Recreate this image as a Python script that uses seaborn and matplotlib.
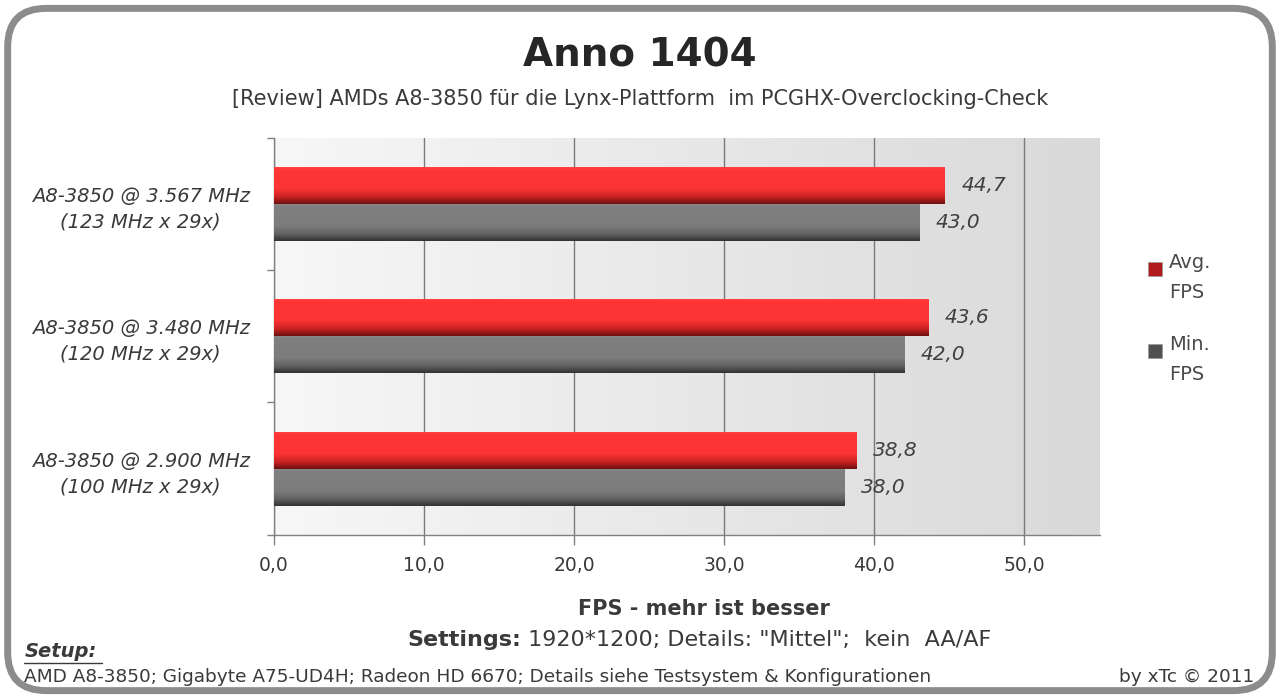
import numpy as np
import pandas as pd
import matplotlib.pyplot as plt
import seaborn as sns
from matplotlib.patches import FancyBboxPatch, Rectangle
from matplotlib.colors import LinearSegmentedColormap

# data
configs = ["A8-3850 @ 3.567 MHz\n(123 MHz x 29x)",
           "A8-3850 @ 3.480 MHz\n(120 MHz x 29x)",
           "A8-3850 @ 2.900 MHz\n(100 MHz x 29x)"]
avg_fps = [44.7, 43.6, 38.8]
min_fps = [43.0, 42.0, 38.0]
series = ["Avg. FPS", "Min. FPS"]
xticks = [0, 10, 20, 30, 40, 50]

df = pd.DataFrame({
    "config": configs * 2,
    "fps": avg_fps + min_fps,
    "series": [series[0]] * 3 + [series[1]] * 3,
})

sns.set_theme(style="white")
plt.rcParams["font.family"] = ["DejaVu Sans"]
TXT = "#3a3a3a"

fig = plt.figure(figsize=(12.8, 6.99), dpi=100)
fig.patch.set_facecolor("white")

# rounded frame
frame = FancyBboxPatch((0.006, 0.012), 0.988, 0.976, boxstyle="round,pad=0,rounding_size=0.03",
                       transform=fig.transFigure, facecolor="white", edgecolor="#8c8c8c",
                       linewidth=5, mutation_aspect=1.83, zorder=-10)
fig.patches.append(frame)

ax = fig.add_axes([0.214, 0.235, 0.645, 0.568])
ax.set_facecolor("none")

palette = {series[0]: "#ff3535", series[1]: "#808080"}
sns.barplot(data=df, y="config", x="fps", hue="series", order=configs, hue_order=series,
            palette=palette, orient="h", width=0.56, ax=ax, legend=False, saturation=1,
            edgecolor="none", zorder=3)

# plot background gradient
bg = LinearSegmentedColormap.from_list("bg", ["#f7f7f7", "#d9d9d9"])
ax.imshow(np.linspace(0, 1, 256).reshape(1, -1), cmap=bg, aspect="auto",
          extent=[0, 1, 0, 1], transform=ax.transAxes, zorder=0)

# shading on bars: flat colour with a darker band towards the bottom edge
shade_cmaps = {
    series[0]: LinearSegmentedColormap.from_list(
        "r", [(0, "#ff4545"), (0.08, "#ff3535"), (0.6, "#fb3333"), (0.82, "#c82222"), (1, "#6e1010")]),
    series[1]: LinearSegmentedColormap.from_list(
        "g", [(0, "#8a8a8a"), (0.08, "#808080"), (0.6, "#7c7c7c"), (0.82, "#626262"), (1, "#333333")]),
}
for cont, s in zip(ax.containers, series):
    for bar in cont:
        x0, y0 = bar.get_x(), bar.get_y()
        w, h = bar.get_width(), bar.get_height()
        grad = np.linspace(0, 1, 64).reshape(-1, 1)
        im = ax.imshow(grad, cmap=shade_cmaps[s], aspect="auto",
                       extent=[x0, x0 + w, y0 + h, y0], zorder=4, interpolation="bilinear")
        im.set_clip_path(bar)
    labels = [f"{v:.1f}".replace(".", ",") for v in cont.datavalues]
    ax.bar_label(cont, labels=labels, padding=12, fontsize=14.5, style="italic", color="#404040")

ax.set_xlim(0, 55)
ax.set_ylim(2.5, -0.5)
ax.set_xticks(xticks)
ax.set_xticklabels([f"{t:.1f}".replace(".", ",") for t in xticks], fontsize=13.5, color=TXT)
ax.set_yticks(range(len(configs)))
ax.set_yticklabels(configs, fontsize=14, style="italic", color=TXT, ha="center",
                   linespacing=1.45)
ax.tick_params(axis="y", length=0, pad=96)
ax.tick_params(axis="x", length=7, color="#808080", width=1, pad=8, direction="out")
# minor ticks at group boundaries on the y axis
ax.set_yticks([-0.5, 0.5, 1.5, 2.5], minor=True)
ax.tick_params(axis="y", which="minor", length=5, color="#808080", left=True)
ax.tick_params(axis="x", bottom=True)

ax.grid(axis="x", color="#7a7a7a", linewidth=1, zorder=1)
ax.set_axisbelow(True)
for side in ["top", "right"]:
    ax.spines[side].set_visible(False)
for side in ["left", "bottom"]:
    ax.spines[side].set_color("#808080")
    ax.spines[side].set_linewidth(1)
ax.set_xlabel("")
ax.set_ylabel("")

# legend
for yy, lab, col in [(0.605, "Avg.\nFPS", "#b01c1c"), (0.488, "Min.\nFPS", "#505050")]:
    fig.patches.append(Rectangle((0.897, yy), 0.011, 0.02, transform=fig.transFigure,
                                 facecolor=col, edgecolor="#999999", linewidth=0.5))
    fig.text(0.913, yy + 0.033, lab, fontsize=14, color="#4a4a4a", va="top", ha="left",
             linespacing=1.75)

# titles
fig.text(0.50, 0.92, "Anno 1404", fontsize=28, fontweight="bold", color="#262626",
         ha="center", va="center")
fig.text(0.50, 0.859, "[Review] AMDs A8-3850 für die Lynx-Plattform  im PCGHX-Overclocking-Check",
         fontsize=15, color=TXT, ha="center", va="center")

fig.text(0.550, 0.129, "FPS - mehr ist besser", fontsize=15, fontweight="bold", color=TXT,
         ha="center", va="center")
t_set = fig.text(0.318, 0.084, "Settings:", fontsize=16, fontweight="bold", color=TXT,
                 ha="left", va="center")
ax.annotate(" 1920*1200; Details: \"Mittel\";  kein  AA/AF", xy=(1, 0.5), xycoords=t_set,
            fontsize=16, color=TXT, ha="left", va="center", annotation_clip=False)
fig.text(0.019, 0.068, "Setup:", fontsize=14, fontweight="bold", style="italic", color=TXT,
         ha="left", va="center")
fig.lines.append(plt.Line2D([0.019, 0.080], [0.052, 0.052], transform=fig.transFigure,
                            color=TXT, linewidth=1))
fig.text(0.019, 0.031, "AMD A8-3850; Gigabyte A75-UD4H; Radeon HD 6670; Details siehe Testsystem & Konfigurationen",
         fontsize=13.3, color=TXT, ha="left", va="center")
fig.text(0.980, 0.031, "by xTc © 2011", fontsize=13.3, color=TXT, ha="right", va="center")

fig.savefig("out.png", dpi=100)
